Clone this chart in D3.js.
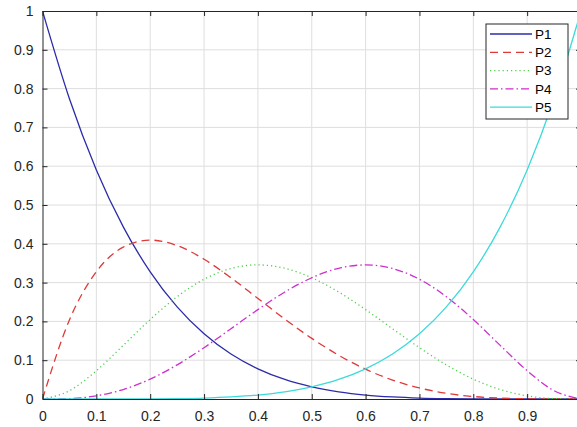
<!DOCTYPE html>
<html>
<head>
<meta charset="utf-8">
<script src="https://cdn.jsdelivr.net/npm/d3@7"></script>
<style>
  html, body { margin: 0; padding: 0; background: #fff; }
  svg { display: block; }
  text { font-family: "Liberation Sans", Arial, sans-serif; }
</style>
</head>
<body>
<svg id="chart" width="577" height="427"></svg>
<script>
// ---- data ----
const tValues = [0, 0.05, 0.1, 0.15, 0.2, 0.25, 0.3, 0.35, 0.4, 0.45, 0.5,
                 0.55, 0.6, 0.65, 0.7, 0.75, 0.8, 0.85, 0.9, 0.95, 1];
const P1 = [1, 0.7738, 0.5905, 0.4437, 0.3277, 0.2373, 0.1681, 0.1160, 0.0778, 0.0503, 0.0313,
            0.0185, 0.0102, 0.0053, 0.0024, 0.0010, 0.0003, 0.0001, 0, 0, 0];
const P2 = [0, 0.2036, 0.3281, 0.3915, 0.4096, 0.3955, 0.3602, 0.3124, 0.2592, 0.2059, 0.1563,
            0.1128, 0.0768, 0.0488, 0.0284, 0.0146, 0.0064, 0.0022, 0.0005, 0, 0];
const P3 = [0, 0.0214, 0.0729, 0.1382, 0.2048, 0.2637, 0.3087, 0.3364, 0.3456, 0.3369, 0.3125,
            0.2757, 0.2304, 0.1811, 0.1323, 0.0879, 0.0512, 0.0244, 0.0081, 0.0011, 0];
const P4 = [0, 0.0011, 0.0081, 0.0244, 0.0512, 0.0879, 0.1323, 0.1811, 0.2304, 0.2757, 0.3125,
            0.3369, 0.3456, 0.3364, 0.3087, 0.2637, 0.2048, 0.1382, 0.0729, 0.0214, 0];
const P5 = [0, 0, 0, 0.0001, 0.0003, 0.0010, 0.0024, 0.0053, 0.0102, 0.0185, 0.0313,
            0.0503, 0.0778, 0.1160, 0.1681, 0.2373, 0.3277, 0.4437, 0.5905, 0.7738, 1];
const seriesNames = ["P1", "P2", "P3", "P4", "P5"];
const xTicks = [0, 0.1, 0.2, 0.3, 0.4, 0.5, 0.6, 0.7, 0.8, 0.9];
const yTicks = [0, 0.1, 0.2, 0.3, 0.4, 0.5, 0.6, 0.7, 0.8, 0.9, 1];

// ---- styles ----
const styles = [
  { color: "#2c2ca8", dash: null },
  { color: "#dd3a3a", dash: "8,5" },
  { color: "#4ccc4c", dash: "1.2,3" },
  { color: "#cc30cc", dash: "8,3,1.5,3" },
  { color: "#3cdada", dash: null }
];

const svg = d3.select("#chart");
const xS = d3.scaleLinear().domain([0, 1]).range([42.5, 581]);
const yS = d3.scaleLinear().domain([0, 1]).range([399, 11]);
const axisColor = "#262626";

svg.append("defs").append("clipPath").attr("id", "plotclip")
  .append("rect").attr("x", xS(0)).attr("y", yS(1)).attr("width", xS(1) - xS(0)).attr("height", yS(0) - yS(1));

// grid
const grid = svg.append("g");
grid.selectAll("line.vx").data(xTicks.slice(1)).enter().append("line")
  .attr("x1", d => xS(d)).attr("x2", d => xS(d)).attr("y1", yS(0)).attr("y2", yS(1))
  .attr("stroke", "#dedede").attr("stroke-width", 1);
grid.selectAll("line.hy").data(yTicks.slice(1, -1)).enter().append("line")
  .attr("x1", xS(0)).attr("x2", xS(1)).attr("y1", d => yS(d)).attr("y2", d => yS(d))
  .attr("stroke", "#dedede").attr("stroke-width", 1);

// lines
const allSeries = [P1, P2, P3, P4, P5];
const lineGen = d3.line().x((d, i) => xS(tValues[i])).y(d => yS(d)).curve(d3.curveMonotoneX);
const linesG = svg.append("g").attr("clip-path", "url(#plotclip)");
allSeries.forEach((s, k) => {
  linesG.append("path").datum(s).attr("d", lineGen)
    .attr("fill", "none").attr("stroke", styles[k].color).attr("stroke-width", 1.3)
    .attr("stroke-dasharray", styles[k].dash);
});

// axes
const tickLen = 5;
const axBottom = d3.axisBottom(xS).tickValues(xTicks).tickSizeInner(-tickLen).tickSizeOuter(0)
  .tickPadding(10).tickFormat(d => d === 0 ? "0" : d3.format(".1f")(d));
const gB = svg.append("g").attr("transform", `translate(0,${yS(0)})`).call(axBottom);
const axTop = d3.axisTop(xS).tickValues(xTicks).tickSizeInner(-tickLen).tickSizeOuter(0).tickFormat("");
const gT = svg.append("g").attr("transform", `translate(0,${yS(1)})`).call(axTop);
const axLeft = d3.axisLeft(yS).tickValues(yTicks).tickSizeInner(-tickLen).tickSizeOuter(0)
  .tickPadding(9).tickFormat(d => (d === 0 || d === 1) ? String(d) : d3.format(".1f")(d));
const gL = svg.append("g").attr("transform", `translate(${xS(0)},0)`).call(axLeft);
const axRight = d3.axisRight(yS).tickValues(yTicks).tickSizeInner(-tickLen).tickSizeOuter(0).tickFormat("");
const gR = svg.append("g").attr("transform", `translate(${xS(1)},0)`).call(axRight);
[gB, gT, gL, gR].forEach(g => {
  g.select(".domain").attr("stroke", axisColor).attr("stroke-width", 1);
  g.selectAll(".tick line").attr("stroke", axisColor);
  g.selectAll(".tick text").attr("fill", axisColor).style("font-size", "14px")
    .style("font-family", "'Liberation Sans', Arial, sans-serif");
});
gB.selectAll(".tick text").attr("dy", "0.85em");

// legend
const lg = svg.append("g").attr("transform", "translate(486,24)");
lg.append("rect").attr("x", 0).attr("y", 0).attr("width", 82).attr("height", 95)
  .attr("fill", "#fff").attr("stroke", axisColor).attr("stroke-width", 1);
seriesNames.forEach((name, k) => {
  const yy = 10 + k * 18.3;
  lg.append("line").attr("x1", 4).attr("x2", 46).attr("y1", yy).attr("y2", yy)
    .attr("stroke", styles[k].color).attr("stroke-width", 1.3)
    .attr("stroke-dasharray", styles[k].dash);
  lg.append("text").attr("x", 49).attr("y", yy).attr("dy", "0.36em")
    .style("font-size", "13.5px").attr("fill", "#000").text(name);
});
</script>
</body>
</html>
